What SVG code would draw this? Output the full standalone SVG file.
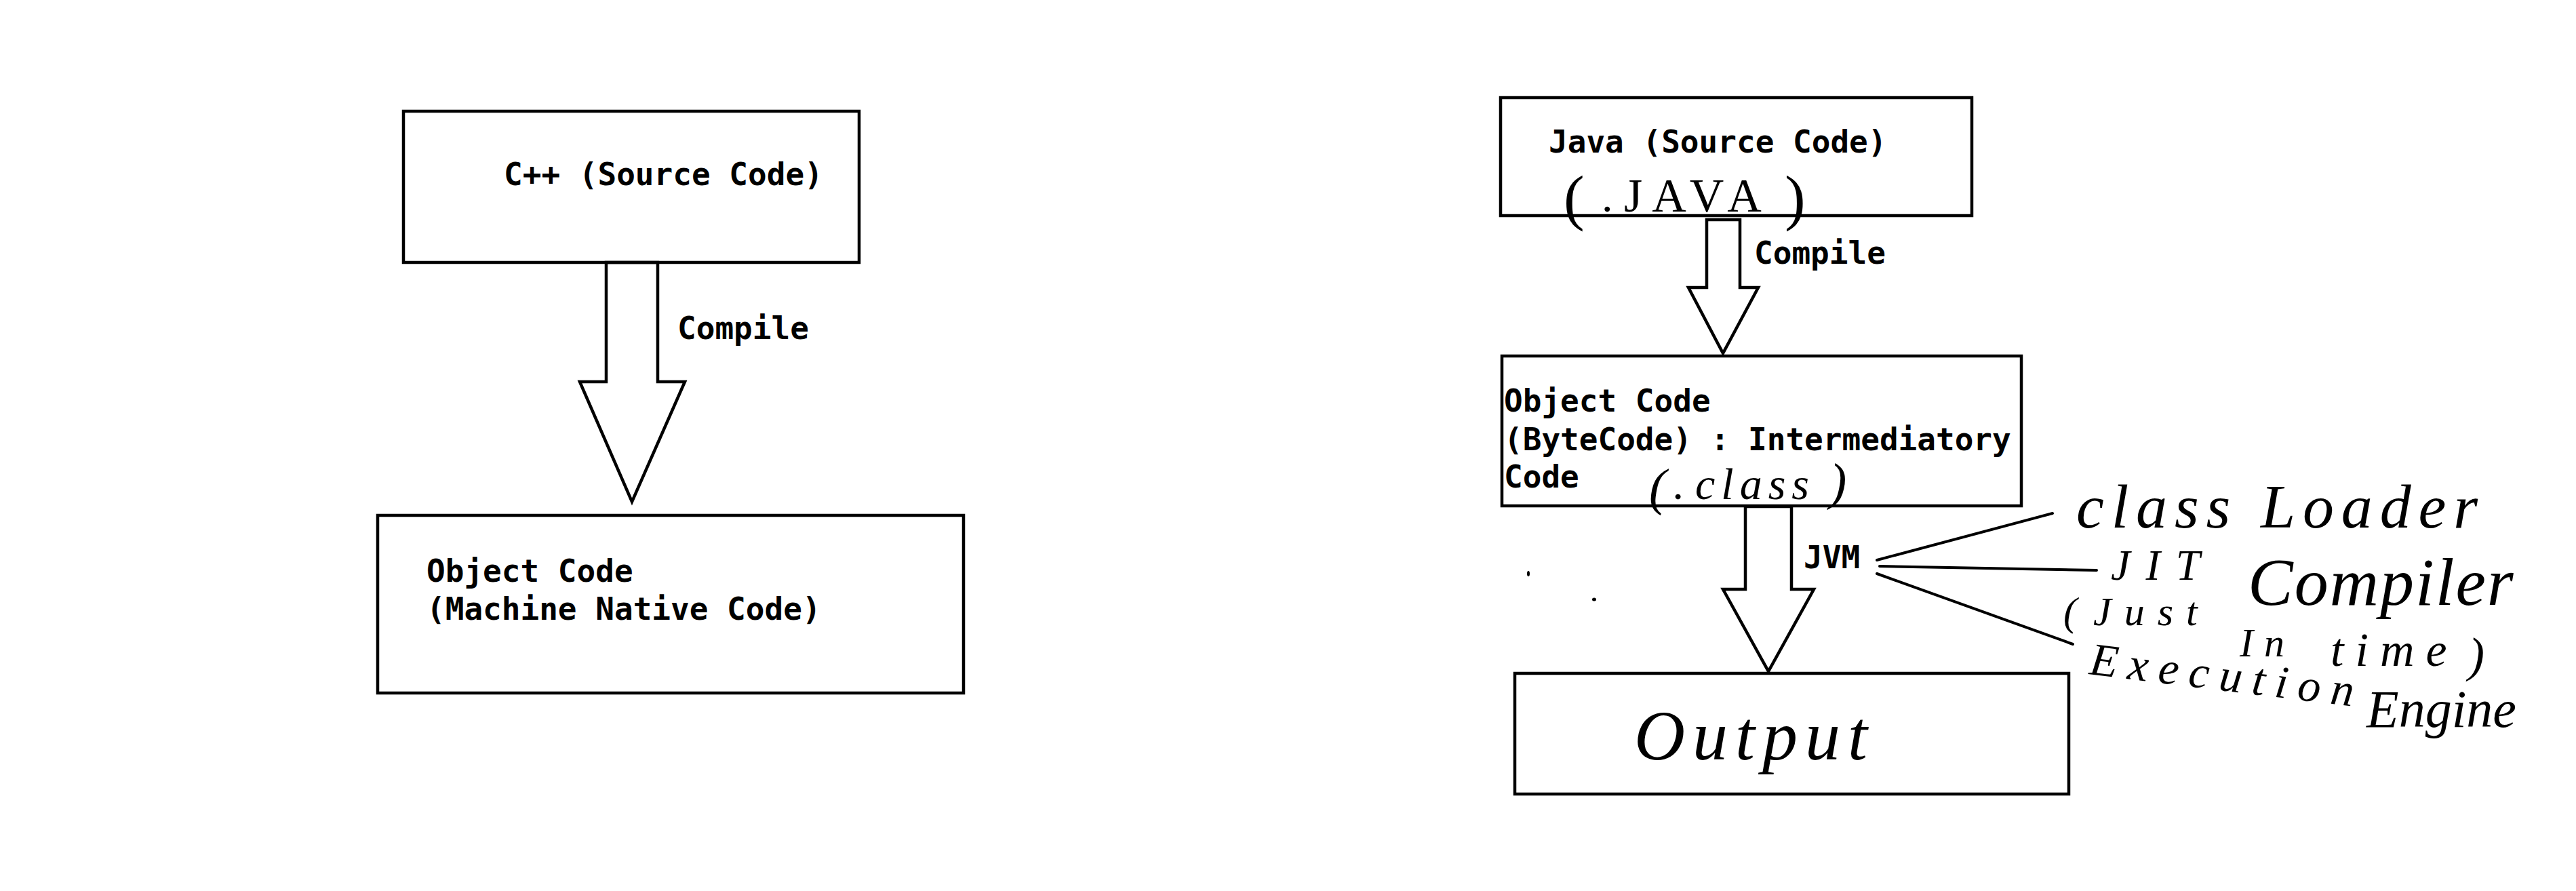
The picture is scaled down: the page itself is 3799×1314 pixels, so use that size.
<svg xmlns="http://www.w3.org/2000/svg" width="3799" height="1314" viewBox="0 0 3799 1314">
<style>
.box{fill:none;stroke:#000;stroke-width:4.5}
.arr{fill:#fff;stroke:#000;stroke-width:4.5;stroke-linejoin:miter}
.ln{stroke:#000;stroke-width:4;stroke-linecap:round;fill:none}
.t{font-family:"DejaVu Sans Mono","Liberation Mono",monospace;font-weight:bold;font-size:46px;fill:#000}
.h{font-family:"Liberation Serif","DejaVu Serif",serif;font-style:italic;fill:#000}
.hu{font-family:"Liberation Serif","DejaVu Serif",serif;fill:#000}
</style>
<rect x="0" y="0" width="3799" height="1314" fill="#fff"/>

<g id="connectors">
  <polygon class="arr" points="894,387 894,563 855,563 932,740 1010,563 970,563 970,387"/>
  <text class="t" x="999" y="500">Compile</text>
  <polygon class="arr" points="2517,324 2517,424 2490,424 2541,521 2593,424 2566,424 2566,324"/>
  <text class="t" x="2587" y="389">Compile</text>
  <polygon class="arr" points="2574,747 2574,869 2541,869 2608,990 2675,869 2642,869 2642,747"/>
  <text class="t" x="2660" y="838">JVM</text>
  <line class="ln" x1="2768" y1="826" x2="3027" y2="757"/>
  <line class="ln" x1="2772" y1="835" x2="3092" y2="841"/>
  <line class="ln" x1="2768" y1="846" x2="3057" y2="950"/>
</g>

<g id="node-cpp-source">
  <rect class="box" x="595" y="164" width="672" height="223"/>
  <text class="t" x="743" y="273">C++ (Source Code)</text>
</g>

<g id="node-cpp-object">
  <rect class="box" x="557" y="760" width="864" height="262"/>
  <text class="t" x="629" y="858">Object Code</text>
  <text class="t" x="629" y="914">(Machine Native Code)</text>
</g>

<g id="node-java-source">
  <rect class="box" x="2213" y="144" width="695" height="174"/>
  <text class="t" x="2284" y="225">Java (Source Code)</text>
  <text class="hu" y="322"><tspan x="2306" font-size="92">(</tspan><tspan x="2362" y="312" font-size="66">.</tspan><tspan x="2395" y="312" font-size="70" letter-spacing="14">JAVA</tspan><tspan x="2632" y="322" font-size="92">)</tspan></text>
</g>

<g id="node-bytecode">
  <rect class="box" x="2215" y="525" width="766" height="221"/>
  <text class="t" x="2218" y="607">Object Code</text>
  <text class="t" x="2218" y="664">(ByteCode) : Intermediatory</text>
  <text class="t" x="2218" y="719">Code</text>
  <text class="h" y="744"><tspan x="2432" font-size="76">(</tspan><tspan x="2468" y="736" font-size="66">.</tspan><tspan x="2500" y="736" font-size="66" letter-spacing="9">class</tspan><tspan x="2698" font-size="76">)</tspan></text>
</g>

<g id="node-output">
  <rect class="box" x="2234" y="993" width="817" height="178"/>
  <text class="h" x="2410" y="1120" font-size="104" letter-spacing="11">Output</text>
</g>

<g id="jvm-parts">
  <text class="h" x="3062" y="778" font-size="92" textLength="592" lengthAdjust="spacing">class Loader</text>
  <text class="h"><tspan x="3113" y="855" font-size="64" letter-spacing="23">JIT</tspan><tspan x="3315" y="892" font-size="100" letter-spacing="2">Compiler</tspan></text>
  <text class="h"><tspan x="3043" y="922" font-size="60">(</tspan><tspan x="3087" y="922" font-size="60" letter-spacing="19">Just</tspan><tspan x="3303" y="968" font-size="60" letter-spacing="16">In</tspan><tspan x="3437" y="982" font-size="70" letter-spacing="17">time</tspan><tspan x="3640" y="990" font-size="72">)</tspan></text>
  <text class="h" x="3080" y="994" font-size="68" letter-spacing="15" transform="rotate(7 3080 994)">Execution</text>
  <text class="h" x="3490" y="1072" font-size="78">Engine</text>
</g>

<g id="marks">
  <ellipse cx="2254" cy="846" rx="2" ry="4" fill="#000"/>
  <ellipse cx="2351" cy="884" rx="3" ry="2.5" fill="#000"/>
</g>
</svg>
